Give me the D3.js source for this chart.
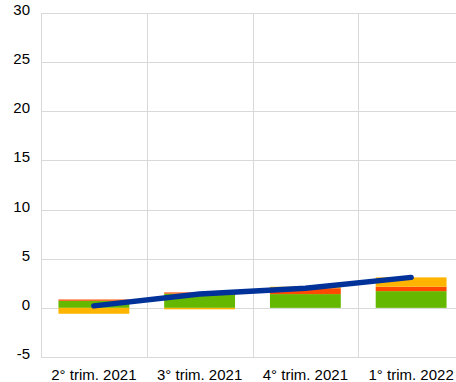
<!DOCTYPE html>
<html>
<head>
<meta charset="utf-8">
<script src="https://cdn.jsdelivr.net/npm/d3@7"></script>
<style>
  html, body { margin: 0; padding: 0; background: #fff; }
  svg { display: block; font-family: "Liberation Sans", Arial, sans-serif; }
</style>
</head>
<body>
<svg id="chart" width="456" height="382"></svg>
<script>
// Quarterly contributions (percentage points) and total
const quarters = ["2° trim. 2021", "3° trim. 2021", "4° trim. 2021", "1° trim. 2022"];
const greenVals  = [0.72, 1.45, 1.4, 1.7];
const redVals    = [0.13, 0.12, 0.6, 0.45];
const yellowVals = [-0.6, -0.15, 0.15, 0.95];
const totalVals  = [0.2, 1.4, 2.0, 3.1];
const yTicks = [-5, 0, 5, 10, 15, 20, 25, 30];

const seriesNames = ["green", "red", "yellow"];
const seriesColors = { green: "#65b800", red: "#ff4b00", yellow: "#ffb400" };
const seriesData = { green: greenVals, red: redVals, yellow: yellowVals };

const svg = d3.select("#chart");
const margin = { left: 41, right: -8, top: 13, bottom: 25 };
const W = 456, H = 382;

const x = d3.scaleBand()
  .domain(quarters)
  .range([margin.left, W - margin.right])
  .paddingInner(0)
  .paddingOuter(0);

const y = d3.scaleLinear()
  .domain([-5, 30])
  .range([H - margin.bottom, margin.top]);

// horizontal gridlines
svg.append("g")
  .selectAll("line")
  .data(yTicks)
  .join("line")
  .attr("x1", margin.left)
  .attr("x2", W)
  .attr("y1", d => Math.round(y(d)) + 0.5)
  .attr("y2", d => Math.round(y(d)) + 0.5)
  .attr("stroke", "#d9d9d9")
  .attr("stroke-width", 1);

// vertical band separators
svg.append("g")
  .selectAll("line")
  .data(quarters)
  .join("line")
  .attr("x1", d => Math.round(x(d)) + 0.5)
  .attr("x2", d => Math.round(x(d)) + 0.5)
  .attr("y1", y(30))
  .attr("y2", y(-5))
  .attr("stroke", "#d9d9d9")
  .attr("stroke-width", 1);

// y axis labels
const yAxis = d3.axisLeft(y).tickValues(yTicks).tickFormat(d => String(d))
  .tickSize(0).tickPadding(11);
const ga = svg.append("g")
  .attr("transform", `translate(${margin.left},0)`)
  .call(yAxis);
ga.select(".domain").remove();
ga.selectAll("text")
  .attr("font-size", 15)
  .attr("dy", "0.1em")
  .attr("fill", "#000")
  .attr("font-family", "Liberation Sans, Arial, sans-serif");

// x axis labels
const xAxis = d3.axisBottom(x).tickSize(0).tickPadding(12);
const gx = svg.append("g")
  .attr("transform", `translate(0,${y(-5)})`)
  .call(xAxis);
gx.select(".domain").remove();
gx.selectAll("text")
  .attr("font-size", 15)
  .attr("fill", "#000")
  .attr("font-family", "Liberation Sans, Arial, sans-serif");

// stacked bars (positive and negative parts stacked separately)
const barW = x.bandwidth() * 0.67;
quarters.forEach((q, i) => {
  let pos = 0, neg = 0;
  seriesNames.forEach(name => {
    const v = seriesData[name][i];
    let y0, y1;
    if (v >= 0) { y0 = pos; y1 = pos + v; pos = y1; }
    else { y0 = neg; y1 = neg + v; neg = y1; }
    svg.append("rect")
      .attr("x", x(q) + (x.bandwidth() - barW) / 2)
      .attr("width", barW)
      .attr("y", y(Math.max(y0, y1)))
      .attr("height", Math.abs(y(y0) - y(y1)))
      .attr("fill", seriesColors[name]);
  });
});

// total line
const line = d3.line()
  .x((d, i) => x(quarters[i]) + x.bandwidth() / 2)
  .y(d => y(d));
svg.append("path")
  .datum(totalVals)
  .attr("d", line)
  .attr("fill", "none")
  .attr("stroke", "#003299")
  .attr("stroke-width", 5.5)
  .attr("stroke-linecap", "round")
  .attr("stroke-linejoin", "round");
</script>
</body>
</html>
